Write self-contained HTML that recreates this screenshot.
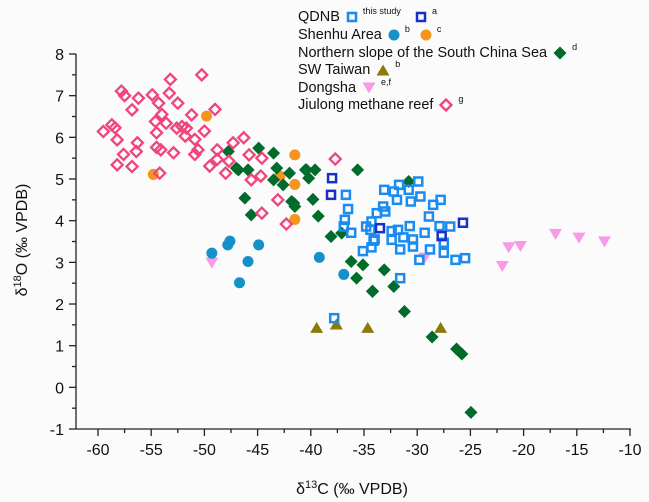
<!DOCTYPE html>
<html><head><meta charset="utf-8"><style>
body{margin:0;background:#fff;font-family:"Liberation Sans",Arial,sans-serif}
#wrap{position:relative;width:649px;height:502px;background:#fbfbfb;overflow:hidden}
svg{position:absolute;left:0;top:0}
.leg{position:absolute;left:298px;font-size:14.5px;color:#111;display:flex;align-items:center;height:18px;white-space:nowrap}
.leg svg{position:static;margin-left:6px}
.leg sup{font-size:9px;margin-left:5px;align-self:flex-start;margin-top:-2px}
</style></head><body>
<div id="wrap">
<svg id="plot" width="649" height="502"></svg>
<div class="leg" style="top:8px">QDNB<svg width="12" height="12"><rect x="2" y="2" width="8" height="8" fill="none" stroke="#1a8cf0" stroke-width="2.5"/></svg><sup>this study</sup><svg width="12" height="12" style="margin-left:14px"><rect x="2" y="2" width="8" height="8" fill="none" stroke="#1a2fc8" stroke-width="2.5"/></svg><sup>a</sup></div>
<div class="leg" style="top:26px">Shenhu Area<svg width="12" height="12"><circle cx="6" cy="6" r="5.5" fill="#1590c8"/></svg><sup>b</sup><svg width="12" height="12" style="margin-left:10px"><circle cx="6" cy="6" r="5.5" fill="#f7941d"/></svg><sup>c</sup></div>
<div class="leg" style="top:44px">Northern slope of the South China Sea<svg width="14" height="14"><polygon points="7,0.5 13.5,7 7,13.5 0.5,7" fill="#006b2a"/></svg><sup>d</sup></div>
<div class="leg" style="top:61px">SW Taiwan<svg width="14" height="12"><polygon points="7,0.5 13.5,11.5 0.5,11.5" fill="#8b7a0a"/></svg><sup>b</sup></div>
<div class="leg" style="top:79px">Dongsha<svg width="14" height="12"><polygon points="0.5,0.5 13.5,0.5 7,11.5" fill="#f99ae8"/></svg><sup>e,f</sup></div>
<div class="leg" style="top:96px">Jiulong methane reef<svg width="14" height="14"><polygon points="7,1.5 12.5,7 7,12.5 1.5,7" fill="none" stroke="#f0457a" stroke-width="2.3"/></svg><sup>g</sup></div>
</div>
<script>
const xTicks=[-60,-55,-50,-45,-40,-35,-30,-25,-20,-15,-10];
const yTicks=[-1,0,1,2,3,4,5,6,7,8];
const jiulongX=[-50.25,-53.2,-57.8,-57.5,-56.2,-54.9,-53.3,-54.3,-52.5,-56.8,-49.0,-54.0,-51.2,-54.6,-53.6,-52.1,-58.7,-58.4,-59.5,-54.5,-52.6,-51.7,-50.0,-58.2,-56.3,-50.9,-51.8,-47.3,-46.3,-57.6,-56.4,-54.5,-54.1,-52.9,-50.9,-50.6,-48.8,-58.2,-56.8,-49.5,-48.8,-47.7,-45.8,-44.6,-54.2,-48.0,-45.6,-44.7,-43.1,-44.6,-42.3,-37.7];
const jiulongY=[7.5,7.39,7.11,7.0,6.94,7.02,7.06,6.82,6.82,6.66,6.67,6.55,6.54,6.38,6.34,6.26,6.3,6.23,6.14,6.11,6.22,6.22,6.15,5.94,5.87,5.95,6.03,5.87,5.99,5.59,5.66,5.76,5.7,5.63,5.59,5.7,5.7,5.34,5.3,5.31,5.47,5.43,5.58,5.5,5.14,5.14,4.98,5.07,4.5,4.18,3.92,5.48];
const shenhuCX=[-49.8,-41.5,-54.8,-42.9,-41.5,-41.5];
const shenhuCY=[6.51,5.58,5.11,5.07,4.87,4.03];
const shenhuBX=[-47.6,-47.8,-44.9,-49.3,-45.9,-46.7,-39.2,-36.9];
const shenhuBY=[3.51,3.42,3.42,3.22,3.02,2.51,3.12,2.71];
const dongshaX=[-49.3,-29.3,-22.0,-21.4,-20.3,-17.0,-14.8,-12.4];
const dongshaY=[2.98,3.1,2.9,3.35,3.38,3.67,3.58,3.49];
const taiwanX=[-39.45,-37.6,-34.65,-27.8];
const taiwanY=[1.44,1.52,1.44,1.44];
const nsX=[-47.75,-44.9,-43.5,-47.0,-45.9,-43.2,-42.0,-40.5,-43.5,-42.6,-46.2,-41.6,-45.6,-40.4,-39.6,-40.2,-41.8,-41.5,-39.8,-39.3,-38.1,-37.1,-35.6,-36.2,-35.1,-35.7,-34.2,-46.8,-30.8,-33.1,-34.2,-32.2,-31.2,-28.6,-26.3,-25.8,-24.95];
const nsY=[5.66,5.74,5.62,5.26,5.22,5.26,5.14,5.22,4.98,4.86,4.54,4.42,4.14,5.22,5.22,5.02,4.46,4.34,4.51,4.11,3.62,3.7,5.22,3.02,2.94,2.62,2.3,5.22,4.94,2.82,2.31,2.42,1.82,1.21,0.92,0.8,-0.6];
const qdnbX=[-36.7,-36.5,-36.8,-36.9,-36.2,-35.1,-34.3,-34.1,-34.8,-34.3,-33.8,-33.0,-33.2,-33.1,-32.2,-31.7,-31.9,-30.8,-29.9,-29.7,-30.6,-28.5,-27.8,-28.9,-27.9,-26.9,-29.3,-30.7,-31.8,-32.4,-32.4,-31.3,-30.4,-30.4,-31.6,-27.5,-27.5,-28.8,-26.4,-25.5,-29.8,-31.6,-34.0,-34.4,-37.8];
const qdnbY=[4.62,4.28,4.02,3.86,3.71,3.27,3.36,3.52,3.86,3.98,4.18,4.22,4.34,4.74,4.7,4.86,4.5,4.74,4.94,4.58,4.46,4.38,4.5,4.1,3.87,3.86,3.71,3.87,3.78,3.75,3.54,3.6,3.55,3.38,3.31,3.47,3.23,3.31,3.06,3.1,3.06,2.62,3.55,3.78,1.66];
const qdnbAX=[-38.0,-38.1,-25.7,-27.7,-33.5];
const qdnbAY=[5.02,4.62,3.95,3.63,3.82];

const NS='http://www.w3.org/2000/svg';
const svg=document.getElementById('plot');
const X=v=>98+(v+60)*10.64;
const Y=v=>54+(8-v)*41.67;
function el(t,a,p){const e=document.createElementNS(NS,t);for(const k in a)e.setAttribute(k,a[k]);(p||svg).appendChild(e);return e;}
// axes
const ax=el('g',{stroke:'#222','stroke-width':1.3,fill:'none'});


el('line',{x1:76,y1:54,x2:76,y2:429},ax);
el('line',{x1:76,y1:429,x2:X(-10)+1,y2:429},ax);
xTicks.forEach((t,i)=>{
  el('line',{x1:X(t),y1:429,x2:X(t),y2:436},ax);
  if(i<xTicks.length-1) el('line',{x1:X(t+2.5),y1:429,x2:X(t+2.5),y2:433},ax);
  const tx=el('text',{x:X(t),y:455,'text-anchor':'middle','font-size':16,fill:'#111'});
  tx.textContent=t;
  
  
});
yTicks.forEach((t,i)=>{
  el('line',{x1:69,y1:Y(t),x2:76,y2:Y(t)},ax);
  if(i<yTicks.length-1) el('line',{x1:72,y1:Y(t+0.5),x2:76,y2:Y(t+0.5)},ax);
  const tx=el('text',{x:64,y:Y(t)+6,'text-anchor':'end','font-size':16,fill:'#111'});
  tx.textContent=t;
  
  
});
const xl=el('text',{x:352,y:494,'text-anchor':'middle','font-size':16,fill:'#111'});
xl.innerHTML='δ<tspan dy="-6" font-size="11">13</tspan><tspan dy="6">C (‰ VPDB)</tspan>';


const yl=el('text',{x:0,y:0,'text-anchor':'middle','font-size':16,fill:'#111',transform:'translate(27,240) rotate(-90)'});
yl.innerHTML='δ<tspan dy="-6" font-size="11">18</tspan><tspan dy="6">O (‰ VPDB)</tspan>';


// markers
function diamondFill(xs,ys,c,name){xs.forEach((v,i)=>{const x=X(v),y=Y(ys[i]);const p=el('polygon',{points:`${x},${y-6.5} ${x+6.5},${y} ${x},${y+6.5} ${x-6.5},${y}`,fill:c});

});}
function diamondOpen(xs,ys,c,name){xs.forEach((v,i)=>{const x=X(v),y=Y(ys[i]);const p=el('polygon',{points:`${x},${y-5.5} ${x+5.5},${y} ${x},${y+5.5} ${x-5.5},${y}`,fill:'none',stroke:c,'stroke-width':2.3});

});}
function circ(xs,ys,c,name){xs.forEach((v,i)=>{const p=el('circle',{cx:X(v),cy:Y(ys[i]),r:5.5,fill:c});

});}
function sq(xs,ys,c,name){xs.forEach((v,i)=>{const p=el('rect',{x:X(v)-4,y:Y(ys[i])-4,width:8,height:8,fill:'none',stroke:c,'stroke-width':2.5});

});}
function tri(xs,ys,c,down,name){xs.forEach((v,i)=>{const x=X(v),y=Y(ys[i]);const pts=down?`${x-6.5},${y-5.5} ${x+6.5},${y-5.5} ${x},${y+5.5}`:`${x},${y-5.5} ${x+6.5},${y+5.5} ${x-6.5},${y+5.5}`;const p=el('polygon',{points:pts,fill:c});

});}
tri(dongshaX,dongshaY,'#f99ae8',true,'dongsha-point');
circ(shenhuBX,shenhuBY,'#1590c8','shenhu-b-point');
circ(shenhuCX,shenhuCY,'#f7941d','shenhu-c-point');
diamondFill(nsX,nsY,'#006b2a','northern-slope-point');
tri(taiwanX,taiwanY,'#8b7a0a',false,'sw-taiwan-point');
diamondOpen(jiulongX,jiulongY,'#f0457a','jiulong-point');
sq(qdnbX,qdnbY,'#1a8cf0','qdnb-this-study-point');
sq(qdnbAX,qdnbAY,'#1a2fc8','qdnb-a-point');
</script>
</body></html>
